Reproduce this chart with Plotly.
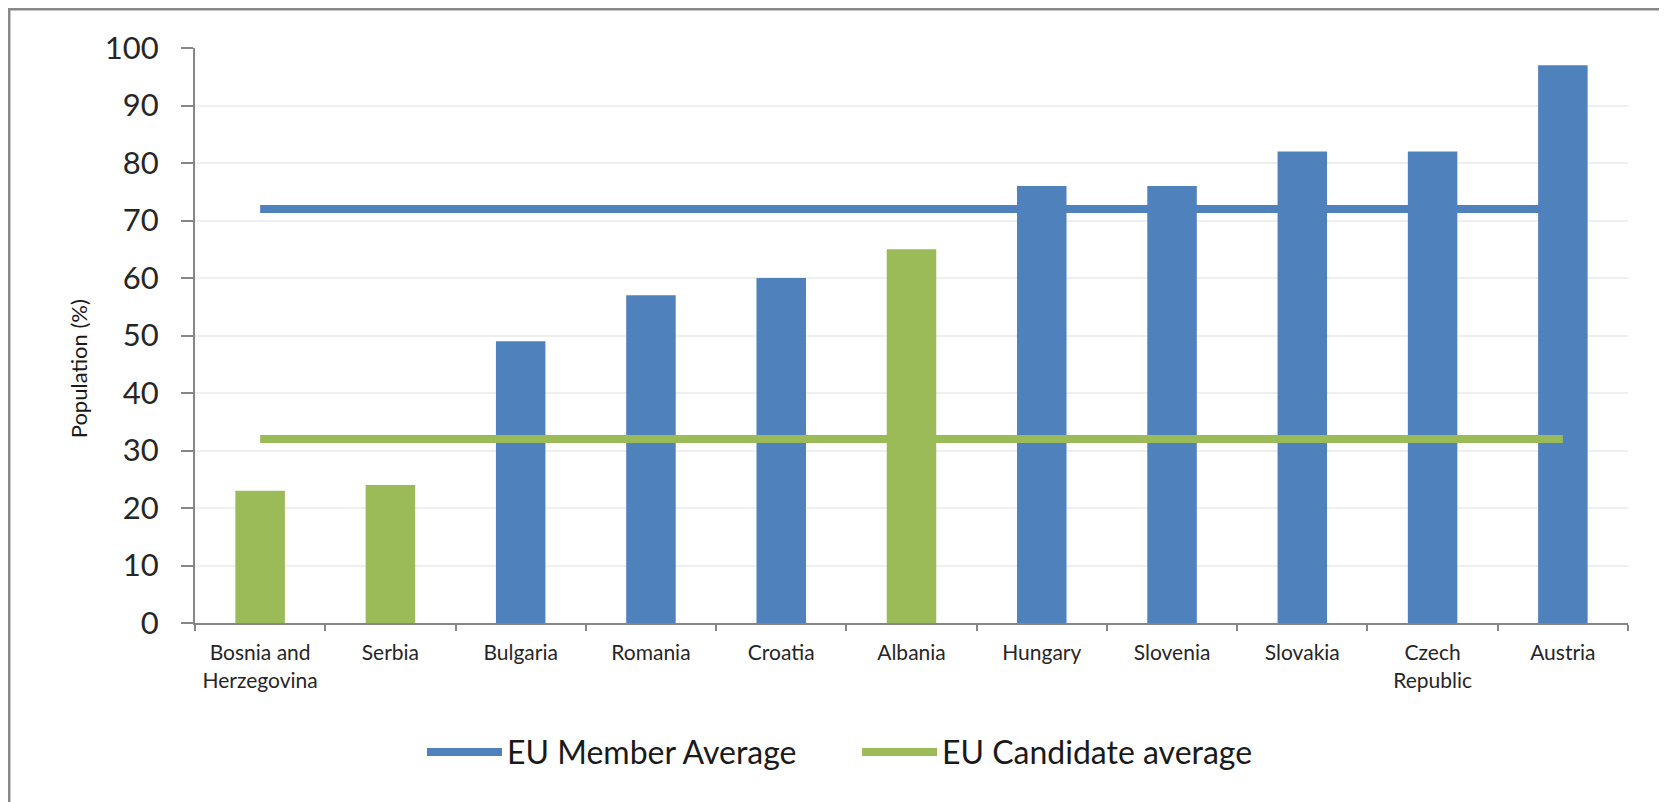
import plotly.graph_objects as go

countries = ["Bosnia and<br>Herzegovina", "Serbia", "Bulgaria", "Romania", "Croatia",
             "Albania", "Hungary", "Slovenia", "Slovakia", "Czech<br>Republic", "Austria"]
population = [23, 24, 49, 57, 60, 65, 76, 76, 82, 82, 97]
status = ["candidate", "candidate", "member", "member", "member",
          "candidate", "member", "member", "member", "member", "member"]
member_avg = [72] * len(countries)
candidate_avg = [32] * len(countries)
y_ticks = [0, 10, 20, 30, 40, 50, 60, 70, 80, 90, 100]

BLUE = "#4F81BD"
GREEN = "#9BBB59"
FONT = "Lato, sans-serif"
TEXT = "#262626"
colors = {"member": BLUE, "candidate": GREEN}

fig = go.Figure()
fig.add_trace(go.Bar(x=countries, y=population, marker_color=[colors[s] for s in status],
                     marker_line_width=0, showlegend=False))
fig.add_trace(go.Scatter(x=countries, y=member_avg, mode="lines", name="EU Member Average",
                         line=dict(color=BLUE, width=8), showlegend=False))
fig.add_trace(go.Scatter(x=countries, y=candidate_avg, mode="lines", name="EU Candidate average",
                         line=dict(color=GREEN, width=8), showlegend=False))

# outer chart border
fig.add_shape(type="rect", xref="paper", yref="paper", x0=-0.1298, x1=1.0244, y0=-0.334, y1=1.0678,
              line=dict(color="#888888", width=3))

# legend drawn by hand so the line keys are as long as in the original
legend_items = [("EU Member Average", BLUE, 0.1619, 0.2142),
                ("EU Candidate average", GREEN, 0.4655, 0.5178)]
for label, col, lx0, lx1 in legend_items:
    fig.add_shape(type="line", xref="paper", yref="paper", x0=lx0, x1=lx1, y0=-0.2243, y1=-0.2243,
                  line=dict(color=col, width=8))
    fig.add_annotation(xref="paper", yref="paper", x=lx1 + 0.002, y=-0.2243, xanchor="left",
                       yanchor="middle", text=label, showarrow=False,
                       font=dict(size=32, color="#1a1a1a"))

fig.add_annotation(xref="paper", yref="paper", x=-0.0815, y=0.4417, text="Population (%)",
                   textangle=-90, showarrow=False, xanchor="center", yanchor="middle",
                   font=dict(size=22, color="#1a1a1a"))

fig.update_layout(
    width=1667, height=802,
    margin=dict(l=187, r=47, t=40, b=187),
    plot_bgcolor="white", paper_bgcolor="white",
    bargap=0.62,
    showlegend=False,
    font=dict(family=FONT, color=TEXT),
    xaxis=dict(showline=True, linecolor="#868686", linewidth=2, ticks="outside",
               tickson="boundaries", ticklen=6, tickcolor="#868686", tickwidth=2,
               tickfont=dict(size=21), tickangle=0, ticklabelstandoff=10, showgrid=False),
    yaxis=dict(range=[0, 100], tickvals=y_ticks, showline=True, linecolor="#868686",
               linewidth=2, ticks="outside", ticklen=12, tickcolor="#868686", tickwidth=2,
               tickfont=dict(size=31), ticklabelstandoff=16, showgrid=True,
               gridcolor="#EFEFEF", gridwidth=2, zeroline=False),
)

fig.write_html("out.html")
